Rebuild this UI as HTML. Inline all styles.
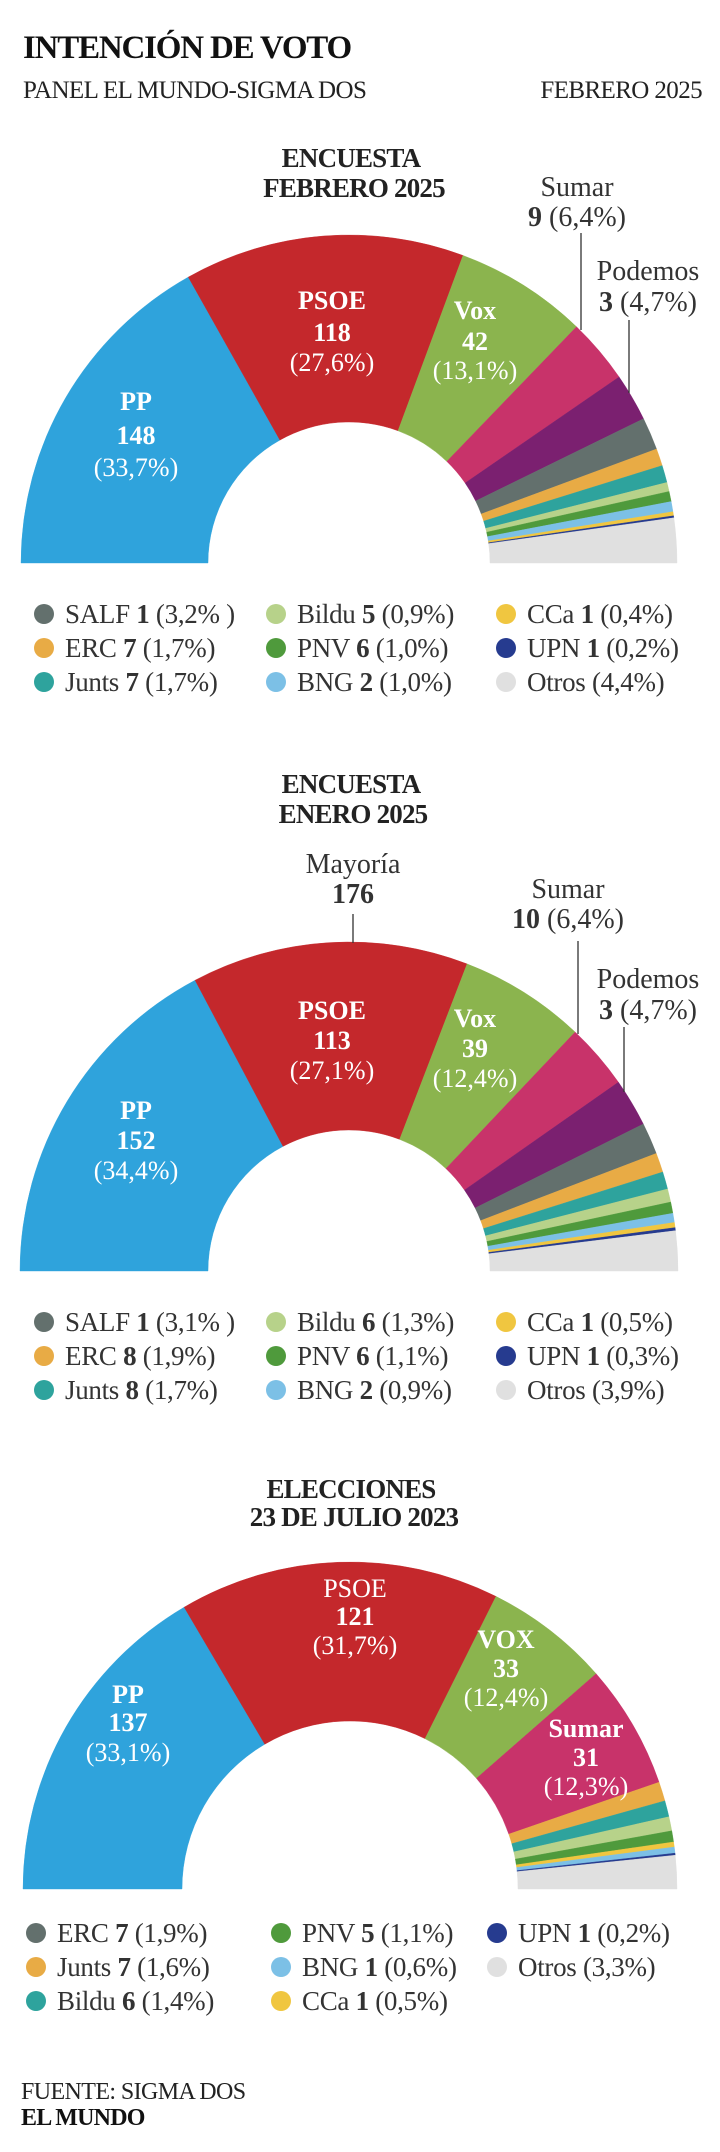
<!DOCTYPE html>
<html><head><meta charset="utf-8">
<style>
html,body{margin:0;padding:0;background:#fff;}
body{width:720px;height:2152px;position:relative;overflow:hidden;font-family:"Liberation Serif",serif;color:#222;}
svg{position:absolute;left:0;top:0;}
</style></head>
<body>
<svg id="s" width="720" height="2152" viewBox="0 0 720 2152" font-family="Liberation Serif, serif">
<g id="wedges"></g>
<text x="23" y="58" font-size="33" font-weight="bold" fill="#111" letter-spacing="-1.2">INTENCIÓN DE VOTO</text>
<text x="23" y="98" font-size="25" fill="#222" letter-spacing="-0.6">PANEL EL MUNDO-SIGMA DOS</text>
<text x="702" y="98" font-size="25" fill="#222" text-anchor="end" letter-spacing="-0.6">FEBRERO 2025</text>

<g font-size="27" font-weight="bold" text-anchor="middle" fill="#222" letter-spacing="-0.8">
<text x="351" y="167">ENCUESTA</text>
<text x="354" y="197">FEBRERO 2025</text>
<text x="351" y="793">ENCUESTA</text>
<text x="353" y="823">ENERO 2025</text>
<text x="351" y="1498">ELECCIONES</text>
<text x="354" y="1526">23 DE JULIO 2023</text>
</g>

<g font-size="28" text-anchor="middle" fill="#333">
<text x="577" y="196">Sumar</text>
<text x="577" y="226"><tspan font-weight="bold">9</tspan> (6,4%)</text>
<text x="648" y="280">Podemos</text>
<text x="648" y="311"><tspan font-weight="bold">3</tspan> (4,7%)</text>
<text x="353" y="873">Mayoría</text>
<text x="353" y="903" font-weight="bold">176</text>
<text x="568" y="898">Sumar</text>
<text x="568" y="928"><tspan font-weight="bold">10</tspan> (6,4%)</text>
<text x="648" y="988">Podemos</text>
<text x="648" y="1019"><tspan font-weight="bold">3</tspan> (4,7%)</text>
</g>
<g stroke="#333" stroke-width="1.3">
<line x1="581" y1="233" x2="581" y2="330"/>
<line x1="629" y1="320" x2="629" y2="393"/>
<line x1="353" y1="914" x2="353" y2="943"/>
<line x1="578" y1="941" x2="578" y2="1034"/>
<line x1="624" y1="1027" x2="624" y2="1092"/>
</g>

<g font-size="26" text-anchor="middle" fill="#fff">
<text x="136" y="410" font-weight="bold">PP</text>
<text x="136" y="444" font-weight="bold">148</text>
<text x="136" y="476">(33,7%)</text>
<text x="332" y="309" font-weight="bold">PSOE</text>
<text x="332" y="341" font-weight="bold">118</text>
<text x="332" y="371">(27,6%)</text>
<text x="475" y="319" font-weight="bold">Vox</text>
<text x="475" y="350" font-weight="bold">42</text>
<text x="475" y="379">(13,1%)</text>

<text x="136" y="1119" font-weight="bold">PP</text>
<text x="136" y="1149" font-weight="bold">152</text>
<text x="136" y="1179">(34,4%)</text>
<text x="332" y="1019" font-weight="bold">PSOE</text>
<text x="332" y="1049" font-weight="bold">113</text>
<text x="332" y="1079">(27,1%)</text>
<text x="475" y="1027" font-weight="bold">Vox</text>
<text x="475" y="1057" font-weight="bold">39</text>
<text x="475" y="1087">(12,4%)</text>

<text x="128" y="1703" font-weight="bold">PP</text>
<text x="128" y="1731" font-weight="bold">137</text>
<text x="128" y="1761">(33,1%)</text>
<text x="355" y="1597">PSOE</text>
<text x="355" y="1625" font-weight="bold">121</text>
<text x="355" y="1654">(31,7%)</text>
<text x="506" y="1648" font-weight="bold">VOX</text>
<text x="506" y="1677" font-weight="bold">33</text>
<text x="506" y="1706">(12,4%)</text>
<text x="586" y="1737" font-weight="bold">Sumar</text>
<text x="586" y="1766" font-weight="bold">31</text>
<text x="586" y="1795">(12,3%)</text>
</g>

<g id="legend" font-size="27" fill="#333" letter-spacing="-0.3"></g>

<text x="21" y="2099" font-size="24" fill="#222" letter-spacing="-0.6">FUENTE: SIGMA DOS</text>
<text x="21" y="2125" font-size="24" font-weight="bold" fill="#111" letter-spacing="-0.8">EL MUNDO</text>
</svg>
<script>
var C={PP:"#2fa3dc",PSOE:"#c4282c",Vox:"#8bb44e",Sumar:"#c8336a",Pod:"#7b2070",SALF:"#63706d",ERC:"#e8ab45",Junts:"#2ea39d",Bildu:"#b7d28a",PNV:"#4f9a3c",BNG:"#7cc0e6",CCa:"#f0c640",UPN:"#263b8f",Otros:"#e0e0e0"};
function chart(cx,cy,R,r,data){
  var tot=0;data.forEach(function(d){tot+=d[1];});
  var a=180,out="";
  data.forEach(function(d){
    var b=a-180*d[1]/tot;
    var t1=a*Math.PI/180,t2=b*Math.PI/180;
    var p=function(rr,t){return (cx+rr*Math.cos(t)).toFixed(2)+","+(cy-rr*Math.sin(t)).toFixed(2);};
    out+='<path fill="'+C[d[0]]+'" stroke="'+C[d[0]]+'" stroke-width="0.4" d="M'+p(R,t1)+' A'+R+','+R+' 0 0 1 '+p(R,t2)+' L'+p(r,t2)+' A'+r+','+r+' 0 0 0 '+p(r,t1)+' Z"/>';
    a=b;
  });
  return out;
}
var w="";
w+=chart(349,563,328,141,[["PP",33.7],["PSOE",27.6],["Vox",13.1],["Sumar",6.4],["Pod",4.7],["SALF",3.2],["ERC",1.7],["Junts",1.7],["Bildu",0.9],["PNV",1.0],["BNG",1.0],["CCa",0.4],["UPN",0.2],["Otros",4.4]]);
w+=chart(349,1271,329,141,[["PP",34.4],["PSOE",27.1],["Vox",12.4],["Sumar",6.4],["Pod",4.7],["SALF",3.1],["ERC",1.9],["Junts",1.7],["Bildu",1.3],["PNV",1.1],["BNG",0.9],["CCa",0.5],["UPN",0.3],["Otros",3.9]]);
w+=chart(350,1889,327,168,[["PP",33.1],["PSOE",31.7],["Vox",12.4],["Sumar",12.3],["ERC",1.9],["Junts",1.6],["Bildu",1.4],["PNV",1.1],["CCa",0.5],["BNG",0.6],["UPN",0.2],["Otros",3.3]]);
document.getElementById("wedges").innerHTML=w;
function leg(items){
  var o="";
  items.forEach(function(it){
    o+='<circle cx="'+it[0]+'" cy="'+it[1]+'" r="10" fill="'+C[it[2]]+'"/>';
    o+='<text x="'+(it[0]+21)+'" y="'+(it[1]+9)+'">'+it[3]+'</text>';
  });
  return o;
}
function L(n,b,p){return n+' <tspan font-weight="bold">'+b+'</tspan> '+p;}
var g="";
g+=leg([[44,614,"SALF",L("SALF",1,"(3,2% )")],[44,648,"ERC",L("ERC",7,"(1,7%)")],[44,682,"Junts",L("Junts",7,"(1,7%)")],
[276,614,"Bildu",L("Bildu",5,"(0,9%)")],[276,648,"PNV",L("PNV",6,"(1,0%)")],[276,682,"BNG",L("BNG",2,"(1,0%)")],
[506,614,"CCa",L("CCa",1,"(0,4%)")],[506,648,"UPN",L("UPN",1,"(0,2%)")],[506,682,"Otros","Otros (4,4%)"]]);
g+=leg([[44,1322,"SALF",L("SALF",1,"(3,1% )")],[44,1356,"ERC",L("ERC",8,"(1,9%)")],[44,1390,"Junts",L("Junts",8,"(1,7%)")],
[276,1322,"Bildu",L("Bildu",6,"(1,3%)")],[276,1356,"PNV",L("PNV",6,"(1,1%)")],[276,1390,"BNG",L("BNG",2,"(0,9%)")],
[506,1322,"CCa",L("CCa",1,"(0,5%)")],[506,1356,"UPN",L("UPN",1,"(0,3%)")],[506,1390,"Otros","Otros (3,9%)"]]);
g+=leg([[36,1933,"SALF",L("ERC",7,"(1,9%)")],[36,1967,"ERC",L("Junts",7,"(1,6%)")],[36,2001,"Junts",L("Bildu",6,"(1,4%)")],
[281,1933,"PNV",L("PNV",5,"(1,1%)")],[281,1967,"BNG",L("BNG",1,"(0,6%)")],[281,2001,"CCa",L("CCa",1,"(0,5%)")],
[497,1933,"UPN",L("UPN",1,"(0,2%)")],[497,1967,"Otros","Otros (3,3%)"]]);
document.getElementById("legend").innerHTML=g;
</script>
</body></html>
